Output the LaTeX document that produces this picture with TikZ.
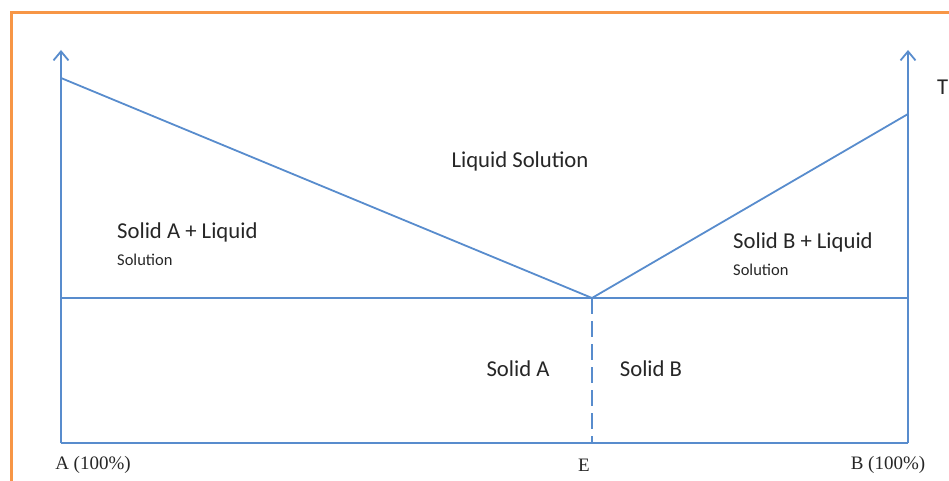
\documentclass[tikz,border=0pt]{standalone}
\usepackage{fontspec}
\setmainfont{Carlito}
\newfontfamily\serifx{Liberation Serif}
\usetikzlibrary{arrows.meta}
\definecolor{lineblue}{RGB}{88,140,205}
\definecolor{frameorange}{RGB}{247,150,70}
\begin{document}
\begin{tikzpicture}[x=1pt,y=-1pt,
  phase/.style={draw=lineblue,line width=1.8pt},
  axis/.style={phase,-{Straight Barb[length=9pt,width=15pt,line width=1.8pt]}},
  big/.style={font=\fontsize{22.7}{24}\selectfont,text=black!85,inner sep=0pt},
  small/.style={font=\fontsize{16.5}{18}\selectfont,text=black!85,inner sep=0pt},
  tick/.style={font=\serifx\fontsize{19}{20}\selectfont,text=black!85,inner sep=0pt}]
\useasboundingbox (0,0) rectangle (949,481);
% frame
\draw[frameorange,line width=3pt] (11,481) -- (11,13) -- (949,13);
% coordinates
\coordinate (A0) at (61,443);
\coordinate (B0) at (908,443);
\coordinate (Atop) at (61,50);
\coordinate (Btop) at (908,50);
\coordinate (Am) at (61,78);
\coordinate (Bm) at (908,114);
\coordinate (E) at (592,298);
\coordinate (Ebot) at (592,443);
\coordinate (Al) at (61,298);
\coordinate (Bl) at (908,298);
% axes
\draw[axis] (A0) -- (Atop);
\draw[axis] (B0) -- (Btop);
\draw[phase] (A0) -- (B0);
\draw[phase] (Al) -- (Bl);
\draw[phase] (Am) -- (E) -- (Bm);
\draw[phase,dash pattern=on 16pt off 7pt] (E) -- (Ebot);
% labels
\node[big,anchor=center] (liq) at (520,161) {Liquid Solution};
\node[big,anchor=west] (sal) at (117,232) {Solid A + Liquid};
\node[small,anchor=west] (sals) at (117,260) {Solution};
\node[big,anchor=west] (sbl) at (733,242) {Solid B + Liquid};
\node[small,anchor=west] (sbls) at (733,270) {Solution};
\node[big,anchor=center] (sa) at (518,369) {Solid A};
\node[big,anchor=center] (sb) at (651,369) {Solid B};
\node[tick,anchor=center] (la) at (93,465) {A (100\%)};
\node[tick,anchor=center] (le) at (584,465) {E};
\node[tick,anchor=center] (lb) at (888,465) {B (100\%)};
\node[big,anchor=west] (lt) at (937,87) {T};
\end{tikzpicture}
\end{document}
